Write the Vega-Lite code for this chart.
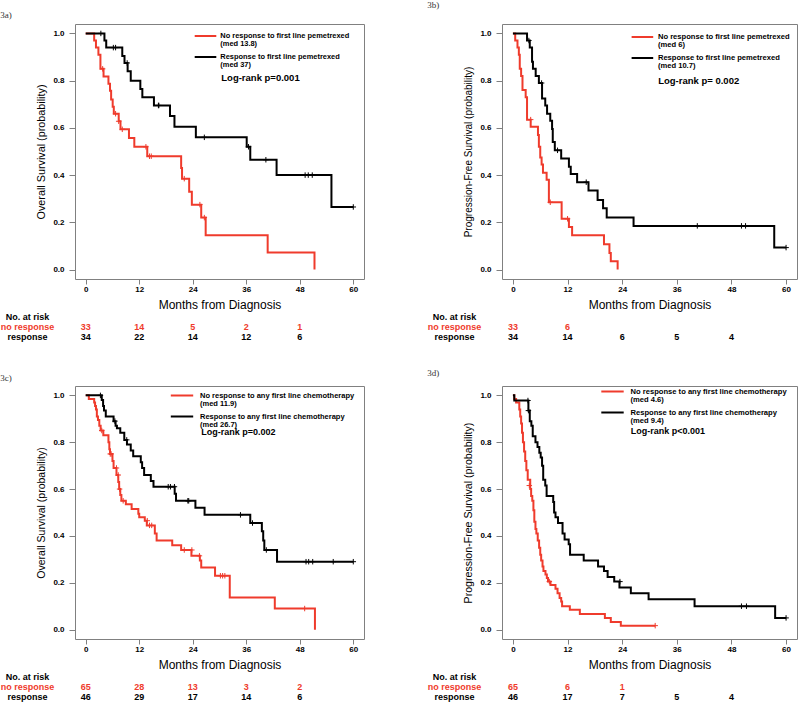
{
"$schema": "https://vega.github.io/schema/vega-lite/v6.json",
"padding": {"left": 0, "top": 0, "right": 0, "bottom": 0},
"background": "white",
"config": {
  "font": "Liberation Sans",
  "view": {"stroke": "#808080", "strokeWidth": 1},
  "style": {"guide-label": {"lineHeight": 8.3}},
  "axis": {"labelFont": "Liberation Sans", "labelFontWeight": "bold", "labelFontSize": 8, "labelColor": "#000000", "tickColor": "#808080", "tickSize": 5, "domain": false, "grid": false, "titleFont": "Liberation Sans", "titleFontWeight": "normal", "titleColor": "#000000"},
  "title": {"font": "Liberation Serif", "fontSize": 9, "fontWeight": "normal", "anchor": "start", "frame": "bounds", "color": "#333333"}
},
"datasets": {
"km": [
{"panel":"a","group":"no","month":0,"surv":1},{"panel":"a","group":"no","month":1.9,"surv":0.97},{"panel":"a","group":"no","month":2.3,"surv":0.94},{"panel":"a","group":"no","month":2.85,"surv":0.91},{"panel":"a","group":"no","month":3.3,"surv":0.85},{"panel":"a","group":"no","month":4.0,"surv":0.818},{"panel":"a","group":"no","month":5.1,"surv":0.787},{"panel":"a","group":"no","month":5.45,"surv":0.757},{"panel":"a","group":"no","month":5.7,"surv":0.72},{"panel":"a","group":"no","month":6.05,"surv":0.69},{"panel":"a","group":"no","month":6.3,"surv":0.66},{"panel":"a","group":"no","month":7.4,"surv":0.628},{"panel":"a","group":"no","month":7.8,"surv":0.594},{"panel":"a","group":"no","month":9.7,"surv":0.557},{"panel":"a","group":"no","month":10.9,"surv":0.52},{"panel":"a","group":"no","month":13.8,"surv":0.48},{"panel":"a","group":"no","month":21.4,"surv":0.43},{"panel":"a","group":"no","month":21.6,"surv":0.385},{"panel":"a","group":"no","month":23.2,"surv":0.33},{"panel":"a","group":"no","month":23.8,"surv":0.275},{"panel":"a","group":"no","month":25.9,"surv":0.22},{"panel":"a","group":"no","month":26.9,"surv":0.145},{"panel":"a","group":"no","month":40.8,"surv":0.072},{"panel":"a","group":"no","month":51.3,"surv":0},
{"panel":"a","group":"yes","month":0,"surv":1},{"panel":"a","group":"yes","month":4.2,"surv":0.97},{"panel":"a","group":"yes","month":4.6,"surv":0.94},{"panel":"a","group":"yes","month":8.2,"surv":0.905},{"panel":"a","group":"yes","month":8.7,"surv":0.875},{"panel":"a","group":"yes","month":9.4,"surv":0.84},{"panel":"a","group":"yes","month":10.1,"surv":0.8},{"panel":"a","group":"yes","month":12.25,"surv":0.765},{"panel":"a","group":"yes","month":12.7,"surv":0.73},{"panel":"a","group":"yes","month":15.3,"surv":0.695},{"panel":"a","group":"yes","month":18.9,"surv":0.65},{"panel":"a","group":"yes","month":19.9,"surv":0.605},{"panel":"a","group":"yes","month":24.7,"surv":0.56},{"panel":"a","group":"yes","month":36.1,"surv":0.52},{"panel":"a","group":"yes","month":36.9,"surv":0.465},{"panel":"a","group":"yes","month":42.8,"surv":0.4},{"panel":"a","group":"yes","month":55.1,"surv":0.265},{"panel":"a","group":"yes","month":60,"surv":0.265},
{"panel":"b","group":"no","month":0,"surv":1},{"panel":"b","group":"no","month":0.5,"surv":0.97},{"panel":"b","group":"no","month":1.0,"surv":0.94},{"panel":"b","group":"no","month":1.3,"surv":0.91},{"panel":"b","group":"no","month":1.5,"surv":0.85},{"panel":"b","group":"no","month":1.8,"surv":0.82},{"panel":"b","group":"no","month":2.1,"surv":0.76},{"panel":"b","group":"no","month":2.8,"surv":0.73},{"panel":"b","group":"no","month":3.1,"surv":0.635},{"panel":"b","group":"no","month":3.9,"surv":0.605},{"panel":"b","group":"no","month":5.5,"surv":0.57},{"panel":"b","group":"no","month":5.7,"surv":0.52},{"panel":"b","group":"no","month":6.0,"surv":0.475},{"panel":"b","group":"no","month":6.3,"surv":0.445},{"panel":"b","group":"no","month":6.6,"surv":0.41},{"panel":"b","group":"no","month":7.4,"surv":0.38},{"panel":"b","group":"no","month":7.9,"surv":0.285},{"panel":"b","group":"no","month":10.7,"surv":0.215},{"panel":"b","group":"no","month":12.3,"surv":0.18},{"panel":"b","group":"no","month":13.0,"surv":0.145},{"panel":"b","group":"no","month":20.0,"surv":0.107},{"panel":"b","group":"no","month":21.2,"surv":0.07},{"panel":"b","group":"no","month":21.5,"surv":0.035},{"panel":"b","group":"no","month":23.0,"surv":0},
{"panel":"b","group":"yes","month":0,"surv":1},{"panel":"b","group":"yes","month":3.1,"surv":0.97},{"panel":"b","group":"yes","month":3.7,"surv":0.94},{"panel":"b","group":"yes","month":4.2,"surv":0.88},{"panel":"b","group":"yes","month":4.4,"surv":0.85},{"panel":"b","group":"yes","month":5.0,"surv":0.82},{"panel":"b","group":"yes","month":5.7,"surv":0.79},{"panel":"b","group":"yes","month":6.4,"surv":0.725},{"panel":"b","group":"yes","month":7.1,"surv":0.695},{"panel":"b","group":"yes","month":7.5,"surv":0.66},{"panel":"b","group":"yes","month":8.2,"surv":0.63},{"panel":"b","group":"yes","month":8.6,"surv":0.595},{"panel":"b","group":"yes","month":8.75,"surv":0.54},{"panel":"b","group":"yes","month":9.2,"surv":0.505},{"panel":"b","group":"yes","month":10.6,"surv":0.47},{"panel":"b","group":"yes","month":12.3,"surv":0.435},{"panel":"b","group":"yes","month":12.7,"surv":0.405},{"panel":"b","group":"yes","month":14.1,"surv":0.37},{"panel":"b","group":"yes","month":16.6,"surv":0.335},{"panel":"b","group":"yes","month":18.6,"surv":0.295},{"panel":"b","group":"yes","month":19.8,"surv":0.26},{"panel":"b","group":"yes","month":20.6,"surv":0.22},{"panel":"b","group":"yes","month":26.5,"surv":0.185},{"panel":"b","group":"yes","month":57.4,"surv":0.093},{"panel":"b","group":"yes","month":60,"surv":0.093},
{"panel":"c","group":"no","month":0,"surv":1},{"panel":"c","group":"no","month":0.7,"surv":0.985},{"panel":"c","group":"no","month":1.9,"surv":0.97},{"panel":"c","group":"no","month":2.1,"surv":0.955},{"panel":"c","group":"no","month":2.3,"surv":0.94},{"panel":"c","group":"no","month":2.5,"surv":0.91},{"panel":"c","group":"no","month":2.75,"surv":0.895},{"panel":"c","group":"no","month":3.05,"surv":0.87},{"panel":"c","group":"no","month":3.35,"surv":0.85},{"panel":"c","group":"no","month":3.95,"surv":0.83},{"panel":"c","group":"no","month":5.1,"surv":0.8},{"panel":"c","group":"no","month":5.3,"surv":0.77},{"panel":"c","group":"no","month":5.45,"surv":0.75},{"panel":"c","group":"no","month":6.0,"surv":0.72},{"panel":"c","group":"no","month":6.25,"surv":0.69},{"panel":"c","group":"no","month":6.9,"surv":0.66},{"panel":"c","group":"no","month":7.3,"surv":0.63},{"panel":"c","group":"no","month":7.5,"surv":0.6},{"panel":"c","group":"no","month":7.75,"surv":0.575},{"panel":"c","group":"no","month":8.0,"surv":0.55},{"panel":"c","group":"no","month":9.0,"surv":0.535},{"panel":"c","group":"no","month":10.3,"surv":0.515},{"panel":"c","group":"no","month":11.8,"surv":0.495},{"panel":"c","group":"no","month":12.0,"surv":0.48},{"panel":"c","group":"no","month":13.25,"surv":0.465},{"panel":"c","group":"no","month":13.7,"surv":0.445},{"panel":"c","group":"no","month":15.5,"surv":0.41},{"panel":"c","group":"no","month":15.9,"surv":0.38},{"panel":"c","group":"no","month":19.4,"surv":0.36},{"panel":"c","group":"no","month":21.4,"surv":0.34},{"panel":"c","group":"no","month":23.7,"surv":0.315},{"panel":"c","group":"no","month":25.6,"surv":0.295},{"panel":"c","group":"no","month":25.9,"surv":0.265},{"panel":"c","group":"no","month":29.0,"surv":0.23},{"panel":"c","group":"no","month":32.3,"surv":0.137},{"panel":"c","group":"no","month":42.4,"surv":0.09},{"panel":"c","group":"no","month":51.4,"surv":0},
{"panel":"c","group":"yes","month":0,"surv":1},{"panel":"c","group":"yes","month":3.6,"surv":0.98},{"panel":"c","group":"yes","month":3.9,"surv":0.955},{"panel":"c","group":"yes","month":4.1,"surv":0.935},{"panel":"c","group":"yes","month":4.5,"surv":0.91},{"panel":"c","group":"yes","month":6.25,"surv":0.89},{"panel":"c","group":"yes","month":6.7,"surv":0.87},{"panel":"c","group":"yes","month":7.0,"surv":0.86},{"panel":"c","group":"yes","month":7.75,"surv":0.84},{"panel":"c","group":"yes","month":8.65,"surv":0.81},{"panel":"c","group":"yes","month":9.25,"surv":0.79},{"panel":"c","group":"yes","month":10.1,"surv":0.765},{"panel":"c","group":"yes","month":10.65,"surv":0.74},{"panel":"c","group":"yes","month":12.35,"surv":0.715},{"panel":"c","group":"yes","month":12.65,"surv":0.69},{"panel":"c","group":"yes","month":13.1,"surv":0.66},{"panel":"c","group":"yes","month":14.6,"surv":0.635},{"panel":"c","group":"yes","month":15.2,"surv":0.61},{"panel":"c","group":"yes","month":19.95,"surv":0.58},{"panel":"c","group":"yes","month":20.25,"surv":0.55},{"panel":"c","group":"yes","month":24.6,"surv":0.52},{"panel":"c","group":"yes","month":26.65,"surv":0.49},{"panel":"c","group":"yes","month":36.9,"surv":0.455},{"panel":"c","group":"yes","month":39.5,"surv":0.42},{"panel":"c","group":"yes","month":39.8,"surv":0.38},{"panel":"c","group":"yes","month":40.05,"surv":0.34},{"panel":"c","group":"yes","month":42.9,"surv":0.29},{"panel":"c","group":"yes","month":60,"surv":0.29},
{"panel":"d","group":"no","month":0,"surv":1},{"panel":"d","group":"no","month":0.3,"surv":0.985},{"panel":"d","group":"no","month":0.7,"surv":0.97},{"panel":"d","group":"no","month":1.4,"surv":0.94},{"panel":"d","group":"no","month":1.6,"surv":0.91},{"panel":"d","group":"no","month":1.8,"surv":0.88},{"panel":"d","group":"no","month":2.0,"surv":0.84},{"panel":"d","group":"no","month":2.2,"surv":0.8},{"panel":"d","group":"no","month":2.45,"surv":0.76},{"panel":"d","group":"no","month":2.7,"surv":0.72},{"panel":"d","group":"no","month":2.95,"surv":0.68},{"panel":"d","group":"no","month":3.25,"surv":0.64},{"panel":"d","group":"no","month":3.8,"surv":0.6},{"panel":"d","group":"no","month":4.0,"surv":0.57},{"panel":"d","group":"no","month":4.25,"surv":0.55},{"panel":"d","group":"no","month":4.5,"surv":0.51},{"panel":"d","group":"no","month":4.7,"surv":0.46},{"panel":"d","group":"no","month":4.95,"surv":0.43},{"panel":"d","group":"no","month":5.15,"surv":0.41},{"panel":"d","group":"no","month":5.45,"surv":0.38},{"panel":"d","group":"no","month":5.75,"surv":0.35},{"panel":"d","group":"no","month":6.0,"surv":0.32},{"panel":"d","group":"no","month":6.2,"surv":0.295},{"panel":"d","group":"no","month":6.5,"surv":0.27},{"panel":"d","group":"no","month":6.7,"surv":0.25},{"panel":"d","group":"no","month":7.15,"surv":0.235},{"panel":"d","group":"no","month":7.45,"surv":0.22},{"panel":"d","group":"no","month":7.7,"surv":0.205},{"panel":"d","group":"no","month":8.25,"surv":0.19},{"panel":"d","group":"no","month":9.35,"surv":0.175},{"panel":"d","group":"no","month":9.8,"surv":0.155},{"panel":"d","group":"no","month":10.25,"surv":0.135},{"panel":"d","group":"no","month":10.6,"surv":0.12},{"panel":"d","group":"no","month":10.8,"surv":0.1},{"panel":"d","group":"no","month":12.5,"surv":0.085},{"panel":"d","group":"no","month":14.7,"surv":0.067},{"panel":"d","group":"no","month":20.2,"surv":0.05},{"panel":"d","group":"no","month":21.5,"surv":0.033},{"panel":"d","group":"no","month":23.7,"surv":0.017},{"panel":"d","group":"no","month":31.25,"surv":0.017},
{"panel":"d","group":"yes","month":0,"surv":1},{"panel":"d","group":"yes","month":0.3,"surv":0.978},{"panel":"d","group":"yes","month":3.4,"surv":0.935},{"panel":"d","group":"yes","month":3.7,"surv":0.89},{"panel":"d","group":"yes","month":4.05,"surv":0.87},{"panel":"d","group":"yes","month":4.35,"surv":0.825},{"panel":"d","group":"yes","month":4.95,"surv":0.8},{"panel":"d","group":"yes","month":5.4,"surv":0.78},{"panel":"d","group":"yes","month":5.8,"surv":0.755},{"panel":"d","group":"yes","month":6.1,"surv":0.735},{"panel":"d","group":"yes","month":6.4,"surv":0.7},{"panel":"d","group":"yes","month":6.65,"surv":0.64},{"panel":"d","group":"yes","month":7.1,"surv":0.615},{"panel":"d","group":"yes","month":7.4,"surv":0.57},{"panel":"d","group":"yes","month":8.85,"surv":0.545},{"panel":"d","group":"yes","month":9.05,"surv":0.5},{"panel":"d","group":"yes","month":9.35,"surv":0.48},{"panel":"d","group":"yes","month":9.9,"surv":0.455},{"panel":"d","group":"yes","month":10.9,"surv":0.41},{"panel":"d","group":"yes","month":11.35,"surv":0.385},{"panel":"d","group":"yes","month":12.25,"surv":0.365},{"panel":"d","group":"yes","month":12.55,"surv":0.32},{"panel":"d","group":"yes","month":15.55,"surv":0.295},{"panel":"d","group":"yes","month":18.7,"surv":0.27},{"panel":"d","group":"yes","month":20.0,"surv":0.25},{"panel":"d","group":"yes","month":20.8,"surv":0.225},{"panel":"d","group":"yes","month":22.25,"surv":0.205},{"panel":"d","group":"yes","month":23.4,"surv":0.18},{"panel":"d","group":"yes","month":25.9,"surv":0.155},{"panel":"d","group":"yes","month":29.8,"surv":0.13},{"panel":"d","group":"yes","month":39.9,"surv":0.1},{"panel":"d","group":"yes","month":57.6,"surv":0.05},{"panel":"d","group":"yes","month":60,"surv":0.05}
],
"censor": [
{"panel":"a","group":"no","month":3.8,"surv":0.85},{"panel":"a","group":"no","month":6.7,"surv":0.66},{"panel":"a","group":"no","month":7.4,"surv":0.628},{"panel":"a","group":"no","month":8.2,"surv":0.594},{"panel":"a","group":"no","month":13.5,"surv":0.52},{"panel":"a","group":"no","month":14.3,"surv":0.48},{"panel":"a","group":"no","month":14.7,"surv":0.48},{"panel":"a","group":"no","month":22.1,"surv":0.385},{"panel":"a","group":"no","month":25.6,"surv":0.275},{"panel":"a","group":"no","month":26.6,"surv":0.22},
{"panel":"a","group":"yes","month":3.4,"surv":1},{"panel":"a","group":"yes","month":6.2,"surv":0.94},{"panel":"a","group":"yes","month":6.7,"surv":0.94},{"panel":"a","group":"yes","month":9.3,"surv":0.875},{"panel":"a","group":"yes","month":16.3,"surv":0.695},{"panel":"a","group":"yes","month":16.4,"surv":0.695},{"panel":"a","group":"yes","month":26.6,"surv":0.56},{"panel":"a","group":"yes","month":36.5,"surv":0.52},{"panel":"a","group":"yes","month":40.4,"surv":0.465},{"panel":"a","group":"yes","month":49.2,"surv":0.4},{"panel":"a","group":"yes","month":49.9,"surv":0.4},{"panel":"a","group":"yes","month":50.8,"surv":0.4},{"panel":"a","group":"yes","month":60,"surv":0.265},
{"panel":"b","group":"no","month":3.9,"surv":0.635},{"panel":"b","group":"no","month":8.2,"surv":0.285},{"panel":"b","group":"no","month":12.0,"surv":0.215},
{"panel":"b","group":"yes","month":3.5,"surv":0.97},{"panel":"b","group":"yes","month":6.3,"surv":0.79},{"panel":"b","group":"yes","month":9.8,"surv":0.505},{"panel":"b","group":"yes","month":16.1,"surv":0.37},{"panel":"b","group":"yes","month":40.5,"surv":0.185},{"panel":"b","group":"yes","month":50.2,"surv":0.185},{"panel":"b","group":"yes","month":51.1,"surv":0.185},{"panel":"b","group":"yes","month":60,"surv":0.093},
{"panel":"c","group":"no","month":3.6,"surv":0.85},{"panel":"c","group":"no","month":5.5,"surv":0.75},{"panel":"c","group":"no","month":5.7,"surv":0.75},{"panel":"c","group":"no","month":6.9,"surv":0.69},{"panel":"c","group":"no","month":7.3,"surv":0.66},{"panel":"c","group":"no","month":7.6,"surv":0.6},{"panel":"c","group":"no","month":8.4,"surv":0.55},{"panel":"c","group":"no","month":13.8,"surv":0.465},{"panel":"c","group":"no","month":14.3,"surv":0.445},{"panel":"c","group":"no","month":14.8,"surv":0.445},{"panel":"c","group":"no","month":22.1,"surv":0.34},{"panel":"c","group":"no","month":23.8,"surv":0.34},{"panel":"c","group":"no","month":25.5,"surv":0.315},{"panel":"c","group":"no","month":30.2,"surv":0.23},{"panel":"c","group":"no","month":30.7,"surv":0.23},{"panel":"c","group":"no","month":31.2,"surv":0.23},{"panel":"c","group":"no","month":49.1,"surv":0.09},
{"panel":"c","group":"yes","month":3.3,"surv":1},{"panel":"c","group":"yes","month":6.55,"surv":0.89},{"panel":"c","group":"yes","month":9.2,"surv":0.81},{"panel":"c","group":"yes","month":18.5,"surv":0.61},{"panel":"c","group":"yes","month":19.0,"surv":0.61},{"panel":"c","group":"yes","month":19.9,"surv":0.61},{"panel":"c","group":"yes","month":22.9,"surv":0.55},{"panel":"c","group":"yes","month":23.1,"surv":0.55},{"panel":"c","group":"yes","month":34.7,"surv":0.49},{"panel":"c","group":"yes","month":37.4,"surv":0.455},{"panel":"c","group":"yes","month":40.5,"surv":0.34},{"panel":"c","group":"yes","month":49.4,"surv":0.29},{"panel":"c","group":"yes","month":50.0,"surv":0.29},{"panel":"c","group":"yes","month":50.9,"surv":0.29},{"panel":"c","group":"yes","month":55.5,"surv":0.29},{"panel":"c","group":"yes","month":60,"surv":0.29},
{"panel":"d","group":"no","month":3.6,"surv":0.615},{"panel":"d","group":"no","month":8.0,"surv":0.205},{"panel":"d","group":"no","month":31.25,"surv":0.017},
{"panel":"d","group":"yes","month":3.3,"surv":0.978},{"panel":"d","group":"yes","month":3.4,"surv":0.935},{"panel":"d","group":"yes","month":23.5,"surv":0.205},{"panel":"d","group":"yes","month":50.2,"surv":0.1},{"panel":"d","group":"yes","month":51.3,"surv":0.1},{"panel":"d","group":"yes","month":60,"surv":0.05}
],
"risk": [
{"panel":"a","row":"no response","month":0,"n":33},{"panel":"a","row":"no response","month":12,"n":14},{"panel":"a","row":"no response","month":24,"n":5},{"panel":"a","row":"no response","month":36,"n":2},{"panel":"a","row":"no response","month":48,"n":1},
{"panel":"a","row":"response","month":0,"n":34},{"panel":"a","row":"response","month":12,"n":22},{"panel":"a","row":"response","month":24,"n":14},{"panel":"a","row":"response","month":36,"n":12},{"panel":"a","row":"response","month":48,"n":6},
{"panel":"b","row":"no response","month":0,"n":33},{"panel":"b","row":"no response","month":12,"n":6},
{"panel":"b","row":"response","month":0,"n":34},{"panel":"b","row":"response","month":12,"n":14},{"panel":"b","row":"response","month":24,"n":6},{"panel":"b","row":"response","month":36,"n":5},{"panel":"b","row":"response","month":48,"n":4},
{"panel":"c","row":"no response","month":0,"n":65},{"panel":"c","row":"no response","month":12,"n":28},{"panel":"c","row":"no response","month":24,"n":13},{"panel":"c","row":"no response","month":36,"n":3},{"panel":"c","row":"no response","month":48,"n":2},
{"panel":"c","row":"response","month":0,"n":46},{"panel":"c","row":"response","month":12,"n":29},{"panel":"c","row":"response","month":24,"n":17},{"panel":"c","row":"response","month":36,"n":14},{"panel":"c","row":"response","month":48,"n":6},
{"panel":"d","row":"no response","month":0,"n":65},{"panel":"d","row":"no response","month":12,"n":6},{"panel":"d","row":"no response","month":24,"n":1},
{"panel":"d","row":"response","month":0,"n":46},{"panel":"d","row":"response","month":12,"n":17},{"panel":"d","row":"response","month":24,"n":7},{"panel":"d","row":"response","month":36,"n":5},{"panel":"d","row":"response","month":48,"n":4}
]
},
"columns": 2,
"align": "each",
"spacing": {"row": 27, "column": 62},
"resolve": {"scale": {"color": "independent"}, "legend": {"color": "independent"}},
"concat": [
{
 "title": {"text": "3a)", "offset": 4},
 "spacing": 0,
 "resolve": {"scale": {"color": "independent"}, "legend": {"color": "independent"}},
 "vconcat": [
  {"width": 289, "height": 255,
   "layer": [
    {"data": {"name": "km"}, "transform": [{"filter": "datum.panel === 'a'"}],
     "mark": {"type": "line", "interpolate": "step-after", "strokeWidth": 2},
     "encoding": {
      "x": {"field": "month", "type": "quantitative", "scale": {"domain": [-2.4, 62.4], "nice": false, "zero": false}, "axis": {"values": [0,12,24,36,48,60], "title": "Months from Diagnosis", "titleFontSize": 12, "labelPadding": 1, "titlePadding": 6}},
      "y": {"field": "surv", "type": "quantitative", "scale": {"domain": [-0.04, 1.04], "nice": false, "zero": false}, "axis": {"values": [0,0.2,0.4,0.6,0.8,1], "format": ".1f", "title": "Overall Survival (probability)", "titleFontSize": 10.8, "tickSize": 6, "labelPadding": 5, "titlePadding": 6}},
      "color": {"field": "group", "type": "nominal", "scale": {"domain": ["no","yes"], "range": ["#ef3b2c","#000000"]},
       "legend": {"orient": "none", "legendX": 121.5, "legendY": 3, "title": null, "padding": 0, "symbolType": "M-1.35,0L1.35,0", "symbolSize": 256, "symbolStrokeWidth": 2, "symbolFillColor": "transparent", "labelFont": "Liberation Sans", "labelFontSize": 7.45, "labelFontWeight": "bold", "labelColor": "#000000", "labelBaseline": "middle", "labelLimit": 400, "labelOffset": 5.8, "rowPadding": 0,
        "labelExpr": "datum.label === 'no' ? ['No response to first line pemetrexed', '(med 13.8)'] : ['Response to first line pemetrexed', '(med 37)']"}}
     }},
    {"data": {"name": "censor"}, "transform": [{"filter": "datum.panel === 'a'"}],
     "mark": {"type": "point", "shape": "M-1,0L1,0M0,-1L0,1", "size": 30, "strokeWidth": 1, "filled": false, "opacity": 1},
     "encoding": {"x": {"field": "month", "type": "quantitative"}, "y": {"field": "surv", "type": "quantitative"}, "color": {"field": "group", "type": "nominal", "legend": null}}},
    {"data": {"values": [{}]},
     "mark": {"type": "text", "align": "left", "baseline": "middle", "fontSize": 9.5, "fontWeight": "bold", "text": "Log-rank p=0.001"},
     "encoding": {"x": {"datum": 30.4, "type": "quantitative"}, "y": {"datum": 0.81, "type": "quantitative"}}}
   ]},
  {"width": 289, "height": 31, "view": {"stroke": null},
   "data": {"name": "risk"}, "transform": [{"filter": "datum.panel === 'a'"}],
   "mark": {"type": "text", "fontSize": 9, "fontWeight": "bold"},
   "encoding": {
    "x": {"field": "month", "type": "quantitative", "scale": {"domain": [-2.4, 62.4], "nice": false, "zero": false}, "axis": null},
    "y": {"field": "row", "type": "nominal", "scale": {"domain": ["No. at risk","no response","response"], "paddingInner": 0, "paddingOuter": 0},
      "axis": {"title": null, "ticks": false, "domain": false, "labelAlign": "center", "labelPadding": 48, "labelFontSize": 9, "labelFontWeight": "bold", "labelColor": {"condition": {"test": "datum.value === 'no response'", "value": "#ef3b2c"}, "value": "#000000"}}},
    "text": {"field": "n", "type": "quantitative"},
    "color": {"condition": {"test": "datum.row === 'no response'", "value": "#ef3b2c"}, "value": "#000000"}
   }}
 ]
},
{
 "title": {"text": "3b)", "offset": 14},
 "spacing": 0,
 "resolve": {"scale": {"color": "independent"}, "legend": {"color": "independent"}},
 "vconcat": [
  {"width": 295, "height": 255,
   "layer": [
    {"data": {"name": "km"}, "transform": [{"filter": "datum.panel === 'b'"}],
     "mark": {"type": "line", "interpolate": "step-after", "strokeWidth": 2},
     "encoding": {
      "x": {"field": "month", "type": "quantitative", "scale": {"domain": [-2.4, 62.4], "nice": false, "zero": false}, "axis": {"values": [0,12,24,36,48,60], "title": "Months from Diagnosis", "titleFontSize": 12, "labelPadding": 1, "titlePadding": 6}},
      "y": {"field": "surv", "type": "quantitative", "scale": {"domain": [-0.04, 1.04], "nice": false, "zero": false}, "axis": {"values": [0,0.2,0.4,0.6,0.8,1], "format": ".1f", "title": "Progression-Free Survival (probability)", "titleFontSize": 10, "tickSize": 6, "labelPadding": 5, "titlePadding": 6}},
      "color": {"field": "group", "type": "nominal", "scale": {"domain": ["no","yes"], "range": ["#ef3b2c","#000000"]},
       "legend": {"orient": "none", "legendX": 131.4, "legendY": 4, "title": null, "padding": 0, "symbolType": "M-1.35,0L1.35,0", "symbolSize": 256, "symbolStrokeWidth": 2, "symbolFillColor": "transparent", "labelFont": "Liberation Sans", "labelFontSize": 7.6, "labelFontWeight": "bold", "labelColor": "#000000", "labelBaseline": "middle", "labelLimit": 400, "labelOffset": 6.5, "rowPadding": 0,
        "labelExpr": "datum.label === 'no' ? ['No response to first line pemetrexed', '(med  6)'] : ['Response to first line pemetrexed', '(med 10.7)']"}}
     }},
    {"data": {"name": "censor"}, "transform": [{"filter": "datum.panel === 'b'"}],
     "mark": {"type": "point", "shape": "M-1,0L1,0M0,-1L0,1", "size": 30, "strokeWidth": 1, "filled": false, "opacity": 1},
     "encoding": {"x": {"field": "month", "type": "quantitative"}, "y": {"field": "surv", "type": "quantitative"}, "color": {"field": "group", "type": "nominal", "legend": null}}},
    {"data": {"values": [{}]},
     "mark": {"type": "text", "align": "left", "baseline": "middle", "fontSize": 9.5, "fontWeight": "bold", "text": "Log-rank p= 0.002"},
     "encoding": {"x": {"datum": 31.9, "type": "quantitative"}, "y": {"datum": 0.8, "type": "quantitative"}}}
   ]},
  {"width": 295, "height": 31, "view": {"stroke": null},
   "data": {"name": "risk"}, "transform": [{"filter": "datum.panel === 'b'"}],
   "mark": {"type": "text", "fontSize": 9, "fontWeight": "bold"},
   "encoding": {
    "x": {"field": "month", "type": "quantitative", "scale": {"domain": [-2.4, 62.4], "nice": false, "zero": false}, "axis": null},
    "y": {"field": "row", "type": "nominal", "scale": {"domain": ["No. at risk","no response","response"], "paddingInner": 0, "paddingOuter": 0},
      "axis": {"title": null, "ticks": false, "domain": false, "labelAlign": "center", "labelPadding": 48, "labelFontSize": 9, "labelFontWeight": "bold", "labelColor": {"condition": {"test": "datum.value === 'no response'", "value": "#ef3b2c"}, "value": "#000000"}}},
    "text": {"field": "n", "type": "quantitative"},
    "color": {"condition": {"test": "datum.row === 'no response'", "value": "#ef3b2c"}, "value": "#000000"}
   }}
 ]
},
{
 "title": {"text": "3c)", "offset": 3},
 "spacing": 0,
 "resolve": {"scale": {"color": "independent"}, "legend": {"color": "independent"}},
 "vconcat": [
  {"width": 289, "height": 253,
   "layer": [
    {"data": {"name": "km"}, "transform": [{"filter": "datum.panel === 'c'"}],
     "mark": {"type": "line", "interpolate": "step-after", "strokeWidth": 2},
     "encoding": {
      "x": {"field": "month", "type": "quantitative", "scale": {"domain": [-2.4, 62.4], "nice": false, "zero": false}, "axis": {"values": [0,12,24,36,48,60], "title": "Months from Diagnosis", "titleFontSize": 12, "labelPadding": 1, "titlePadding": 6}},
      "y": {"field": "surv", "type": "quantitative", "scale": {"domain": [-0.04, 1.04], "nice": false, "zero": false}, "axis": {"values": [0,0.2,0.4,0.6,0.8,1], "format": ".1f", "title": "Overall Survival (probability)", "titleFontSize": 10.5, "tickSize": 6, "labelPadding": 5, "titlePadding": 6}},
      "color": {"field": "group", "type": "nominal", "scale": {"domain": ["no","yes"], "range": ["#ef3b2c","#000000"]},
       "legend": {"orient": "none", "legendX": 98, "legendY": 0.5, "title": null, "padding": 0, "symbolType": "M-1.4,0L1.4,0", "symbolSize": 256, "symbolStrokeWidth": 2, "symbolFillColor": "transparent", "labelFont": "Liberation Sans", "labelFontSize": 7.5, "labelFontWeight": "bold", "labelColor": "#000000", "labelBaseline": "middle", "labelLimit": 400, "labelOffset": 9, "rowPadding": 0,
        "labelExpr": "datum.label === 'no' ? ['No response to any first line chemotherapy', '(med 11.9)'] : ['Response to any first line chemotherapy', '(med 26.7)']"}}
     }},
    {"data": {"name": "censor"}, "transform": [{"filter": "datum.panel === 'c'"}],
     "mark": {"type": "point", "shape": "M-1,0L1,0M0,-1L0,1", "size": 30, "strokeWidth": 1, "filled": false, "opacity": 1},
     "encoding": {"x": {"field": "month", "type": "quantitative"}, "y": {"field": "surv", "type": "quantitative"}, "color": {"field": "group", "type": "nominal", "legend": null}}},
    {"data": {"values": [{}]},
     "mark": {"type": "text", "align": "left", "baseline": "middle", "fontSize": 9, "fontWeight": "bold", "text": "Log-rank p=0.002"},
     "encoding": {"x": {"datum": 25.9, "type": "quantitative"}, "y": {"datum": 0.842, "type": "quantitative"}}}
   ]},
  {"width": 289, "height": 31, "view": {"stroke": null},
   "data": {"name": "risk"}, "transform": [{"filter": "datum.panel === 'c'"}],
   "mark": {"type": "text", "fontSize": 9, "fontWeight": "bold"},
   "encoding": {
    "x": {"field": "month", "type": "quantitative", "scale": {"domain": [-2.4, 62.4], "nice": false, "zero": false}, "axis": null},
    "y": {"field": "row", "type": "nominal", "scale": {"domain": ["No. at risk","no response","response"], "paddingInner": 0, "paddingOuter": 0},
      "axis": {"title": null, "ticks": false, "domain": false, "labelAlign": "center", "labelPadding": 48, "labelFontSize": 9, "labelFontWeight": "bold", "labelColor": {"condition": {"test": "datum.value === 'no response'", "value": "#ef3b2c"}, "value": "#000000"}}},
    "text": {"field": "n", "type": "quantitative"},
    "color": {"condition": {"test": "datum.row === 'no response'", "value": "#ef3b2c"}, "value": "#000000"}
   }}
 ]
},
{
 "title": {"text": "3d)", "offset": 4},
 "spacing": 0,
 "resolve": {"scale": {"color": "independent"}, "legend": {"color": "independent"}},
 "vconcat": [
  {"width": 295, "height": 253,
   "layer": [
    {"data": {"name": "km"}, "transform": [{"filter": "datum.panel === 'd'"}],
     "mark": {"type": "line", "interpolate": "step-after", "strokeWidth": 2},
     "encoding": {
      "x": {"field": "month", "type": "quantitative", "scale": {"domain": [-2.4, 62.4], "nice": false, "zero": false}, "axis": {"values": [0,12,24,36,48,60], "title": "Months from Diagnosis", "titleFontSize": 12, "labelPadding": 1, "titlePadding": 6}},
      "y": {"field": "surv", "type": "quantitative", "scale": {"domain": [-0.04, 1.04], "nice": false, "zero": false}, "axis": {"values": [0,0.2,0.4,0.6,0.8,1], "format": ".1f", "title": "Progression-Free Survival (probability)", "titleFontSize": 10.6, "tickSize": 6, "labelPadding": 5, "titlePadding": 6}},
      "color": {"field": "group", "type": "nominal", "scale": {"domain": ["no","yes"], "range": ["#ef3b2c","#000000"]},
       "legend": {"orient": "none", "legendX": 101.5, "legendY": -3.5, "title": null, "padding": 0, "symbolType": "M-1.4,0L1.4,0", "symbolSize": 256, "symbolStrokeWidth": 2, "symbolFillColor": "transparent", "labelFont": "Liberation Sans", "labelFontSize": 7.6, "labelFontWeight": "bold", "labelColor": "#000000", "labelBaseline": "middle", "labelLimit": 400, "labelOffset": 9, "rowPadding": 0,
        "labelExpr": "datum.label === 'no' ? ['No response to any first line chemotherapy', '(med 4.6)'] : ['Response to any first line chemotherapy', '(med 9.4)']"}}
     }},
    {"data": {"name": "censor"}, "transform": [{"filter": "datum.panel === 'd'"}],
     "mark": {"type": "point", "shape": "M-1,0L1,0M0,-1L0,1", "size": 30, "strokeWidth": 1, "filled": false, "opacity": 1},
     "encoding": {"x": {"field": "month", "type": "quantitative"}, "y": {"field": "surv", "type": "quantitative"}, "color": {"field": "group", "type": "nominal", "legend": null}}},
    {"data": {"values": [{}]},
     "mark": {"type": "text", "align": "left", "baseline": "middle", "fontSize": 9, "fontWeight": "bold", "text": "Log-rank p<0.001"},
     "encoding": {"x": {"datum": 25.9, "type": "quantitative"}, "y": {"datum": 0.85, "type": "quantitative"}}}
   ]},
  {"width": 295, "height": 31, "view": {"stroke": null},
   "data": {"name": "risk"}, "transform": [{"filter": "datum.panel === 'd'"}],
   "mark": {"type": "text", "fontSize": 9, "fontWeight": "bold"},
   "encoding": {
    "x": {"field": "month", "type": "quantitative", "scale": {"domain": [-2.4, 62.4], "nice": false, "zero": false}, "axis": null},
    "y": {"field": "row", "type": "nominal", "scale": {"domain": ["No. at risk","no response","response"], "paddingInner": 0, "paddingOuter": 0},
      "axis": {"title": null, "ticks": false, "domain": false, "labelAlign": "center", "labelPadding": 48, "labelFontSize": 9, "labelFontWeight": "bold", "labelColor": {"condition": {"test": "datum.value === 'no response'", "value": "#ef3b2c"}, "value": "#000000"}}},
    "text": {"field": "n", "type": "quantitative"},
    "color": {"condition": {"test": "datum.row === 'no response'", "value": "#ef3b2c"}, "value": "#000000"}
   }}
 ]
}
]
}
